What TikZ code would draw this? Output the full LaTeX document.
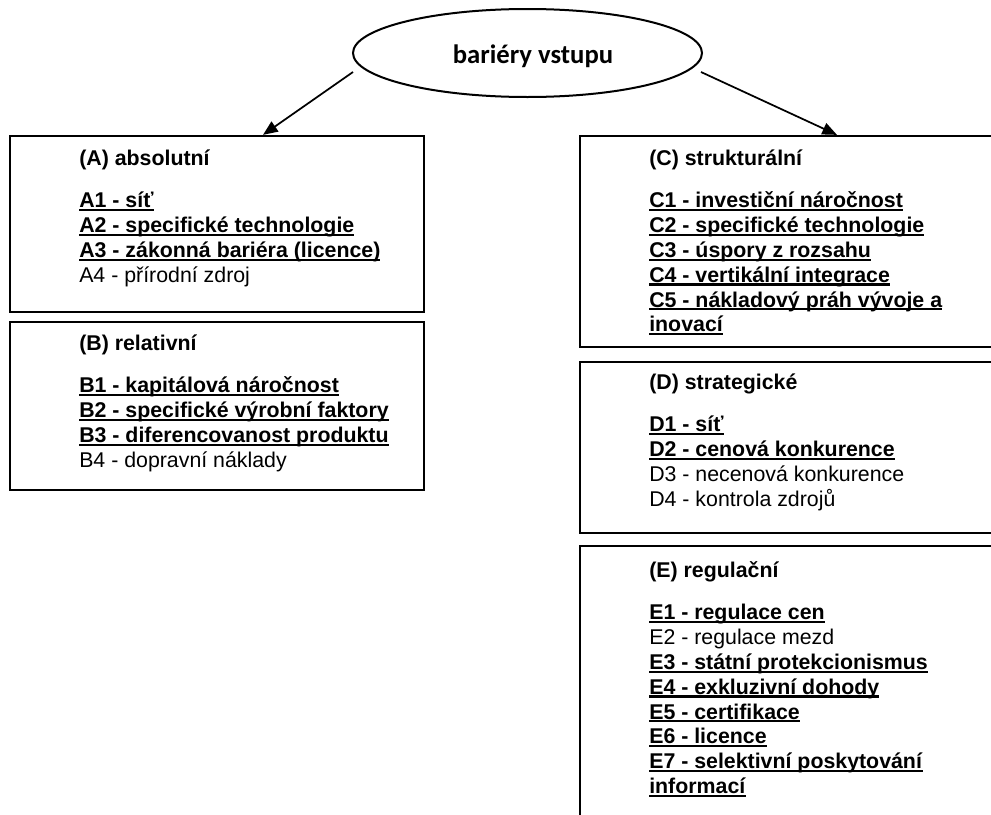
\documentclass[tikz,border=0pt]{standalone}
\usepackage{fontspec}
\setmainfont{Liberation Sans}
\newfontfamily\calfont{Carlito}
\usetikzlibrary{arrows.meta,shapes.geometric,fit}
\newcommand\uln[1]{\leavevmode\setbox0\hbox{#1}\rlap{\rule[-0.15em]{\wd0}{0.1em}}\box0}
\newcommand\bu[1]{\uln{\textbf{#1}}}
\begin{document}
\begin{tikzpicture}[x=0.75pt,y=-0.75pt,
  box/.style={draw=black,line width=1.7pt,inner sep=0pt},
  arr/.style={line width=1.3pt,-{Triangle[length=11pt,width=9pt]}},
  txt/.style={anchor=base west,inner sep=0pt,font=\fontsize{16pt}{18.6pt}\selectfont}]
\useasboundingbox (0,0) rectangle (991,814);
\clip (0,0) rectangle (991,814);
% title
\node[ellipse,draw=black,line width=1.5pt,minimum width=261.75pt,minimum height=66pt,inner sep=0pt] (el) at (527.5,53) {};
\node[anchor=base,inner sep=0pt,font=\calfont\fontsize{20pt}{24pt}\selectfont\bfseries] (title) at (533,63) {bariéry vstupu};
% boxes
\node[box,fit={(10,136) (424,312)}] (A) {};
\node[box,fit={(10,322) (424,490)}] (B) {};
\node[box,fit={(580,136) (1000,347)}] (C) {};
\node[box,fit={(580,362) (1000,533)}] (D) {};
\node[box,fit={(580,546) (1000,830)}] (E) {};
% texts
\node[txt] (tA) at (79,165) {\parbox[t]{400pt}{\raggedright
 \textbf{(A) absolutní}\\[13.6pt]
 \bu{A1 - síť}\\
 \bu{A2 - specifické technologie}\\
 \bu{A3 - zákonná bariéra (licence)}\\
 A4 - přírodní zdroj}};
\node[txt] (tB) at (79,350) {\parbox[t]{400pt}{\raggedright
 \textbf{(B) relativní}\\[13.6pt]
 \bu{B1 - kapitálová náročnost}\\
 \bu{B2 - specifické výrobní faktory}\\
 \bu{B3 - diferencovanost produktu}\\
 B4 - dopravní náklady}};
\node[txt] (tC) at (649,165) {\parbox[t]{400pt}{\raggedright
 \textbf{(C) strukturální}\\[13.6pt]
 \bu{C1 - investiční náročnost}\\
 \bu{C2 - specifické technologie}\\
 \bu{C3 - úspory z rozsahu}\\
 \bu{C4 - vertikální integrace}\\
 \bu{C5 - nákladový práh vývoje a}\\
 \bu{inovací}}};
\node[txt] (tD) at (649,389) {\parbox[t]{400pt}{\raggedright
 \textbf{(D) strategické}\\[13.6pt]
 \bu{D1 - síť}\\
 \bu{D2 - cenová konkurence}\\
 D3 - necenová konkurence\\
 D4 - kontrola zdrojů}};
\node[txt] (tE) at (649,577) {\parbox[t]{400pt}{\raggedright
 \textbf{(E) regulační}\\[13.6pt]
 \bu{E1 - regulace cen}\\
 E2 - regulace mezd\\
 \bu{E3 - státní protekcionismus}\\
 \bu{E4 - exkluzivní dohody}\\
 \bu{E5 - certifikace}\\
 \bu{E6 - licence}\\
 \bu{E7 - selektivní poskytování}\\
 \bu{informací}}};
% connectors
\coordinate (s1) at (353,72);
\coordinate (s2) at (701,72);
\coordinate (e1) at (263,136);
\coordinate (e2) at (837,136);
\draw[arr] (s1) -- (A.north -| e1);
\draw[arr] (s2) -- (C.north -| e2);
\end{tikzpicture}
\end{document}
